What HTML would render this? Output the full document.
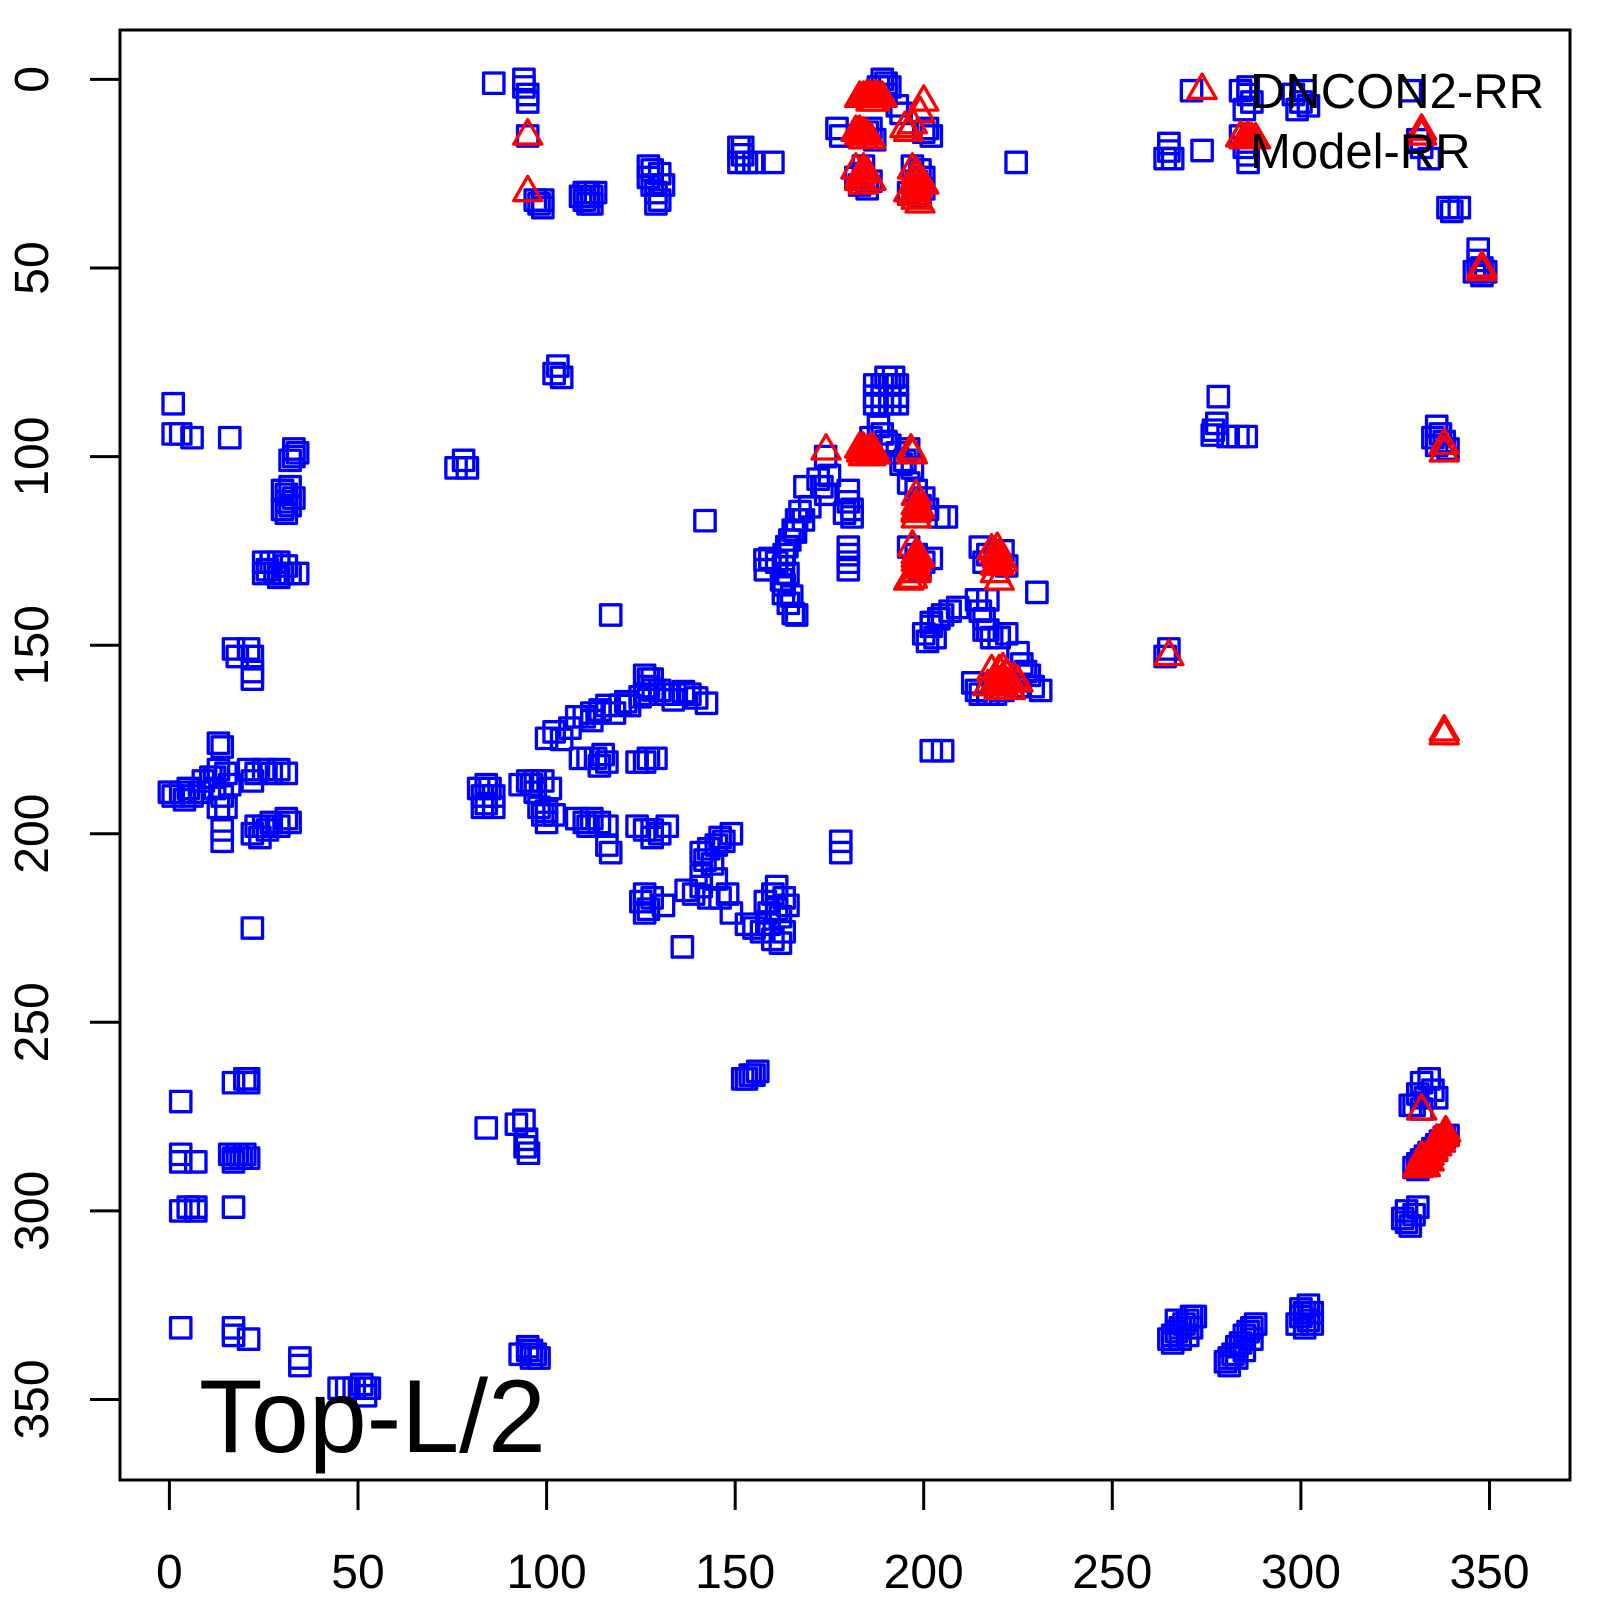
<!DOCTYPE html>
<html><head><meta charset="utf-8"><style>
html,body{margin:0;padding:0;background:#fff;}
svg{display:block;}
text{font-family:"Liberation Sans",Arial,sans-serif;fill:#000;}
</style></head><body>
<svg width="1600" height="1600" viewBox="0 0 1600 1600" xmlns="http://www.w3.org/2000/svg" xmlns:xlink="http://www.w3.org/1999/xlink">
<rect width="1600" height="1600" fill="#fff"/>
<defs>
<path id="q" d="M-2.7,-2.7H2.7V2.7H-2.7Z" fill="none" stroke="#0000ff" stroke-width="0.88" stroke-linejoin="round"/>
<path id="t" d="M0,-4.3L3.72,2.15L-3.72,2.15Z" fill="none" stroke="#ff0000" stroke-width="0.88" stroke-linejoin="round"/>
<path id="tf" d="M0,-4.3L3.72,2.15L-3.72,2.15Z" fill="#ff0000" stroke="#ff0000" stroke-width="0.88" stroke-linejoin="round"/>
</defs>
<g transform="translate(169.4 79.4) scale(3.7717)">
<!-- squares -->
<g>
<use href="#q" x="86" y="1"/><use href="#q" x="94" y="0"/><use href="#q" x="94" y="2"/><use href="#q" x="95" y="4"/><use href="#q" x="95" y="6"/><use href="#q" x="95" y="15"/><use href="#q" x="98" y="33"/><use href="#q" x="99" y="34"/><use href="#q" x="97" y="32"/><use href="#q" x="99" y="32"/>
<use href="#q" x="109" y="31"/><use href="#q" x="110" y="32"/><use href="#q" x="111" y="30"/><use href="#q" x="111" y="33"/><use href="#q" x="112" y="31"/><use href="#q" x="113" y="30"/><use href="#q" x="112" y="33"/><use href="#q" x="110" y="30"/>
<use href="#q" x="127" y="23"/><use href="#q" x="127" y="26"/><use href="#q" x="128" y="28"/><use href="#q" x="129" y="30"/><use href="#q" x="130" y="32"/><use href="#q" x="128" y="24"/><use href="#q" x="130" y="25"/><use href="#q" x="131" y="28"/><use href="#q" x="129" y="33"/>
<use href="#q" x="151" y="18"/><use href="#q" x="152" y="20"/><use href="#q" x="151" y="22"/><use href="#q" x="153" y="22"/><use href="#q" x="155" y="22"/><use href="#q" x="160" y="22"/><use href="#q" x="152" y="18"/>
<use href="#q" x="177" y="13"/><use href="#q" x="178" y="15"/>
<use href="#q" x="189" y="0"/><use href="#q" x="190" y="1"/><use href="#q" x="188" y="2"/><use href="#q" x="191" y="2"/><use href="#q" x="190" y="4"/><use href="#q" x="193" y="7"/><use href="#q" x="194" y="9"/>
<use href="#q" x="185" y="14"/><use href="#q" x="187" y="16"/><use href="#q" x="186" y="13"/><use href="#q" x="200" y="14"/><use href="#q" x="202" y="15"/><use href="#q" x="201" y="13"/>
<use href="#q" x="182" y="26"/><use href="#q" x="184" y="25"/><use href="#q" x="186" y="27"/><use href="#q" x="185" y="29"/><use href="#q" x="183" y="28"/><use href="#q" x="184" y="23"/>
<use href="#q" x="197" y="23"/><use href="#q" x="199" y="24"/><use href="#q" x="200" y="26"/><use href="#q" x="196" y="30"/><use href="#q" x="199" y="31"/><use href="#q" x="200" y="29"/><use href="#q" x="198" y="27"/>
<use href="#q" x="224.5" y="22"/>
<use href="#q" x="271" y="3"/><use href="#q" x="284" y="3"/><use href="#q" x="286" y="4"/><use href="#q" x="287" y="6"/><use href="#q" x="285" y="8"/><use href="#q" x="286" y="2"/>
<use href="#q" x="298" y="4"/><use href="#q" x="300" y="6"/><use href="#q" x="301" y="3"/><use href="#q" x="299" y="8"/><use href="#q" x="302" y="7"/>
<use href="#q" x="329" y="3"/><use href="#q" x="331" y="16"/><use href="#q" x="334" y="21"/><use href="#q" x="332" y="18"/>
<use href="#q" x="265" y="17"/><use href="#q" x="265" y="19"/><use href="#q" x="266" y="21"/><use href="#q" x="264" y="21"/>
<use href="#q" x="284" y="15"/><use href="#q" x="285" y="18"/><use href="#q" x="286" y="20"/><use href="#q" x="286" y="22"/>
<use href="#q" x="339" y="34"/><use href="#q" x="342" y="34"/><use href="#q" x="340" y="35"/>
<use href="#q" x="347" y="45"/><use href="#q" x="347" y="48"/><use href="#q" x="348" y="50"/><use href="#q" x="348" y="52"/><use href="#q" x="347" y="51"/><use href="#q" x="349" y="51"/><use href="#q" x="346" y="51"/>
<use href="#q" x="1" y="86"/><use href="#q" x="1" y="94"/><use href="#q" x="3" y="94"/><use href="#q" x="6" y="95"/><use href="#q" x="16" y="95"/>
<use href="#q" x="33" y="98"/><use href="#q" x="33" y="100"/><use href="#q" x="34" y="99"/><use href="#q" x="32" y="101"/>
<use href="#q" x="30" y="109"/><use href="#q" x="31" y="110"/><use href="#q" x="31" y="112"/><use href="#q" x="32" y="113"/><use href="#q" x="30" y="114"/><use href="#q" x="33" y="111"/><use href="#q" x="32" y="108"/><use href="#q" x="31" y="115"/>
<use href="#q" x="25" y="128"/><use href="#q" x="25" y="131"/><use href="#q" x="27" y="128"/><use href="#q" x="28" y="131"/><use href="#q" x="29" y="128"/><use href="#q" x="30" y="131"/><use href="#q" x="31" y="129"/><use href="#q" x="32" y="131"/><use href="#q" x="26" y="130"/><use href="#q" x="29" y="132"/><use href="#q" x="34" y="131"/>
<use href="#q" x="17" y="151"/><use href="#q" x="18" y="153"/><use href="#q" x="21" y="151"/><use href="#q" x="22" y="153"/><use href="#q" x="22" y="157"/><use href="#q" x="22" y="159"/>
<use href="#q" x="13" y="176"/><use href="#q" x="14" y="177"/>
<use href="#q" x="0" y="189"/><use href="#q" x="1" y="190"/><use href="#q" x="3" y="189"/><use href="#q" x="5" y="188"/><use href="#q" x="6" y="190"/><use href="#q" x="8" y="189"/><use href="#q" x="4" y="191"/>
<use href="#q" x="9" y="186"/><use href="#q" x="11" y="185"/><use href="#q" x="13" y="183"/><use href="#q" x="15" y="184"/><use href="#q" x="16" y="187"/><use href="#q" x="12" y="188"/><use href="#q" x="14" y="190"/><use href="#q" x="15" y="193"/><use href="#q" x="13" y="193"/><use href="#q" x="12" y="185"/>
<use href="#q" x="14" y="199"/><use href="#q" x="14" y="202"/>
<use href="#q" x="21" y="183"/><use href="#q" x="23" y="184"/><use href="#q" x="25" y="183"/><use href="#q" x="27" y="184"/><use href="#q" x="29" y="183"/><use href="#q" x="31" y="184"/><use href="#q" x="22" y="186"/>
<use href="#q" x="22" y="200"/><use href="#q" x="23" y="198"/><use href="#q" x="25" y="198"/><use href="#q" x="27" y="197"/><use href="#q" x="29" y="198"/><use href="#q" x="31" y="196"/><use href="#q" x="32" y="197"/><use href="#q" x="24" y="201"/><use href="#q" x="26" y="199"/>
<use href="#q" x="22" y="225"/>
<use href="#q" x="76" y="103"/><use href="#q" x="79" y="103"/><use href="#q" x="78" y="101"/>
<use href="#q" x="103" y="76"/><use href="#q" x="104" y="79"/><use href="#q" x="102" y="78"/>
<use href="#q" x="117" y="142"/><use href="#q" x="142" y="117"/>
<use href="#q" x="187" y="81"/><use href="#q" x="189" y="81"/><use href="#q" x="191" y="81"/><use href="#q" x="193" y="81"/><use href="#q" x="187" y="84"/><use href="#q" x="189" y="84"/><use href="#q" x="191" y="84"/><use href="#q" x="193" y="84"/><use href="#q" x="187" y="86"/><use href="#q" x="189" y="86"/><use href="#q" x="191" y="86"/><use href="#q" x="193" y="86"/><use href="#q" x="190" y="79"/><use href="#q" x="192" y="79"/>
<use href="#q" x="188" y="92"/><use href="#q" x="189" y="94"/><use href="#q" x="186" y="95"/><use href="#q" x="190" y="96"/>
<use href="#q" x="174" y="100"/>
<use href="#q" x="191" y="97"/><use href="#q" x="193" y="99"/><use href="#q" x="195" y="101"/><use href="#q" x="197" y="103"/><use href="#q" x="194" y="102"/><use href="#q" x="196" y="98"/>
<use href="#q" x="172" y="106"/><use href="#q" x="173" y="108"/><use href="#q" x="174" y="110"/><use href="#q" x="175" y="105"/><use href="#q" x="168.5" y="108"/>
<use href="#q" x="180" y="109"/><use href="#q" x="180" y="112"/><use href="#q" x="181" y="114"/><use href="#q" x="181" y="116"/><use href="#q" x="179" y="115"/>
<use href="#q" x="167.2" y="114.6"/><use href="#q" x="166.3" y="116.8"/><use href="#q" x="165.4" y="119.5"/><use href="#q" x="164.5" y="122.1"/><use href="#q" x="163.7" y="123.9"/><use href="#q" x="159.2" y="127"/><use href="#q" x="157.9" y="127.4"/><use href="#q" x="162.8" y="129.2"/><use href="#q" x="162.3" y="132.7"/><use href="#q" x="162.8" y="136.3"/><use href="#q" x="164.1" y="138.9"/><use href="#q" x="165.4" y="141.6"/><use href="#q" x="166.3" y="142"/><use href="#q" x="169.8" y="113.3"/><use href="#q" x="168.1" y="116.8"/><use href="#q" x="166" y="120"/><use href="#q" x="163" y="126"/><use href="#q" x="161" y="128"/><use href="#q" x="158" y="130"/><use href="#q" x="164" y="131"/><use href="#q" x="163" y="134"/><use href="#q" x="165" y="137"/>
<use href="#q" x="180" y="124"/><use href="#q" x="180" y="126"/><use href="#q" x="180" y="128"/><use href="#q" x="180" y="130"/>
<use href="#q" x="196" y="107"/><use href="#q" x="198" y="109"/><use href="#q" x="200" y="111"/><use href="#q" x="199" y="113"/><use href="#q" x="201" y="114"/>
<use href="#q" x="204" y="116"/><use href="#q" x="206" y="116"/>
<use href="#q" x="196" y="124"/><use href="#q" x="198" y="126"/><use href="#q" x="200" y="128"/><use href="#q" x="202" y="127"/><use href="#q" x="199" y="130"/>
<use href="#q" x="215" y="124"/><use href="#q" x="217" y="126"/><use href="#q" x="219" y="127"/><use href="#q" x="221" y="125"/><use href="#q" x="222" y="129"/><use href="#q" x="216" y="128"/>
<use href="#q" x="230" y="136"/>
<use href="#q" x="200" y="147"/><use href="#q" x="202" y="145"/><use href="#q" x="204" y="143"/><use href="#q" x="205" y="142"/><use href="#q" x="203" y="148"/><use href="#q" x="201" y="149"/><use href="#q" x="207" y="141"/><use href="#q" x="209" y="140"/><use href="#q" x="202" y="144"/>
<use href="#q" x="214" y="138"/><use href="#q" x="215" y="141"/><use href="#q" x="216" y="143"/><use href="#q" x="217" y="138"/><use href="#q" x="216" y="146"/>
<use href="#q" x="217" y="146"/><use href="#q" x="218" y="148"/><use href="#q" x="220" y="148"/><use href="#q" x="222" y="147"/>
<use href="#q" x="225" y="152"/><use href="#q" x="226" y="155"/><use href="#q" x="227" y="157"/>
<use href="#q" x="213" y="160"/><use href="#q" x="214" y="162"/><use href="#q" x="215" y="163"/><use href="#q" x="217" y="163"/><use href="#q" x="225" y="161"/><use href="#q" x="229" y="161"/><use href="#q" x="231" y="162"/><use href="#q" x="228" y="158"/><use href="#q" x="219" y="163"/><use href="#q" x="221" y="162"/>
<use href="#q" x="202" y="178"/><use href="#q" x="205" y="178"/>
<use href="#q" x="265" y="151"/><use href="#q" x="264" y="153"/>
<use href="#q" x="126" y="158"/><use href="#q" x="127" y="159"/><use href="#q" x="128" y="159"/><use href="#q" x="127" y="161"/>
<use href="#q" x="100" y="174.7"/><use href="#q" x="102" y="173"/><use href="#q" x="106.2" y="172"/><use href="#q" x="108" y="169"/><use href="#q" x="110" y="169"/><use href="#q" x="112" y="168"/><use href="#q" x="114.2" y="167.2"/><use href="#q" x="116" y="166"/><use href="#q" x="119.5" y="165.9"/><use href="#q" x="121" y="165"/><use href="#q" x="122" y="166"/><use href="#q" x="124.8" y="163.7"/><use href="#q" x="126" y="163"/><use href="#q" x="128.3" y="161.9"/><use href="#q" x="130" y="162"/><use href="#q" x="132" y="163"/><use href="#q" x="134" y="163"/><use href="#q" x="136.3" y="162.3"/><use href="#q" x="138" y="163"/><use href="#q" x="139.8" y="164"/><use href="#q" x="142.4" y="165.4"/><use href="#q" x="133.6" y="164.5"/><use href="#q" x="118" y="168"/><use href="#q" x="112" y="170"/><use href="#q" x="104" y="175"/>
<use href="#q" x="109" y="180"/><use href="#q" x="111" y="180"/><use href="#q" x="113" y="180"/><use href="#q" x="115" y="179"/><use href="#q" x="114" y="182"/><use href="#q" x="116" y="181"/>
<use href="#q" x="124" y="181"/><use href="#q" x="126" y="181"/><use href="#q" x="127" y="180"/><use href="#q" x="129" y="180"/>
<use href="#q" x="82" y="188"/><use href="#q" x="83" y="190"/><use href="#q" x="84" y="192"/><use href="#q" x="85" y="188"/><use href="#q" x="86" y="190"/><use href="#q" x="86" y="193"/><use href="#q" x="83" y="193"/><use href="#q" x="84" y="187"/>
<use href="#q" x="93" y="187"/><use href="#q" x="95" y="186"/><use href="#q" x="97" y="186"/><use href="#q" x="99" y="186"/><use href="#q" x="101" y="188"/><use href="#q" x="97" y="189"/><use href="#q" x="96" y="187"/>
<use href="#q" x="98" y="193"/><use href="#q" x="100" y="194"/><use href="#q" x="102" y="195"/><use href="#q" x="100" y="197"/><use href="#q" x="99" y="195"/>
<use href="#q" x="108" y="196"/><use href="#q" x="110" y="197"/><use href="#q" x="112" y="196"/><use href="#q" x="114" y="197"/><use href="#q" x="116" y="198"/><use href="#q" x="111" y="198"/>
<use href="#q" x="116" y="203"/><use href="#q" x="117" y="205"/>
<use href="#q" x="124" y="198"/><use href="#q" x="126" y="199"/><use href="#q" x="128" y="199"/><use href="#q" x="130" y="200"/><use href="#q" x="132" y="198"/><use href="#q" x="128" y="201"/>
<use href="#q" x="141" y="205"/><use href="#q" x="143" y="204"/><use href="#q" x="145" y="203"/><use href="#q" x="147" y="202"/><use href="#q" x="149" y="200"/><use href="#q" x="142" y="207"/><use href="#q" x="144" y="208"/><use href="#q" x="146" y="201"/>
<use href="#q" x="141" y="211"/><use href="#q" x="145" y="212"/>
<use href="#q" x="125" y="218"/><use href="#q" x="127" y="220"/><use href="#q" x="128" y="217"/><use href="#q" x="126" y="216"/><use href="#q" x="131" y="219"/><use href="#q" x="126" y="221"/>
<use href="#q" x="137" y="215"/><use href="#q" x="139" y="216"/><use href="#q" x="141" y="214"/><use href="#q" x="143" y="217"/><use href="#q" x="146" y="217"/><use href="#q" x="148" y="216"/><use href="#q" x="149" y="221"/>
<use href="#q" x="136" y="230"/>
<use href="#q" x="158" y="218"/><use href="#q" x="160" y="216"/><use href="#q" x="161" y="214"/><use href="#q" x="163" y="217"/><use href="#q" x="164" y="219"/><use href="#q" x="162" y="222"/><use href="#q" x="159" y="224"/><use href="#q" x="157" y="226"/><use href="#q" x="155" y="225"/><use href="#q" x="153" y="224"/><use href="#q" x="160" y="228"/><use href="#q" x="162" y="229"/><use href="#q" x="163" y="226"/><use href="#q" x="161" y="220"/><use href="#q" x="159" y="221"/>
<use href="#q" x="178" y="202"/><use href="#q" x="178" y="205"/>
<use href="#q" x="152" y="265"/><use href="#q" x="153" y="265"/><use href="#q" x="154" y="264"/><use href="#q" x="155" y="264"/><use href="#q" x="156" y="263"/>
<use href="#q" x="3" y="271"/><use href="#q" x="17" y="266"/><use href="#q" x="20" y="265"/><use href="#q" x="21" y="265"/><use href="#q" x="21" y="266"/>
<use href="#q" x="3" y="285"/><use href="#q" x="3" y="287"/><use href="#q" x="7" y="287"/>
<use href="#q" x="16" y="285"/><use href="#q" x="17" y="286"/><use href="#q" x="18" y="285"/><use href="#q" x="19" y="286"/><use href="#q" x="20" y="285"/><use href="#q" x="21" y="286"/><use href="#q" x="17" y="287"/>
<use href="#q" x="3" y="300"/><use href="#q" x="5" y="299"/><use href="#q" x="7" y="299"/><use href="#q" x="7" y="300"/><use href="#q" x="17" y="299"/>
<use href="#q" x="84" y="278"/><use href="#q" x="92" y="277"/><use href="#q" x="94" y="276"/><use href="#q" x="94.7" y="281"/><use href="#q" x="95.2" y="284.7"/><use href="#q" x="94.3" y="283"/>
<use href="#q" x="3" y="331"/><use href="#q" x="17" y="331"/><use href="#q" x="21" y="334"/><use href="#q" x="17" y="333"/>
<use href="#q" x="34.6" y="339"/><use href="#q" x="34.6" y="341"/>
<use href="#q" x="45" y="347"/><use href="#q" x="47" y="347"/><use href="#q" x="49" y="347"/><use href="#q" x="51" y="346"/><use href="#q" x="52" y="347"/><use href="#q" x="53" y="347"/><use href="#q" x="52" y="349"/>
<use href="#q" x="93" y="338"/><use href="#q" x="95" y="337"/><use href="#q" x="96" y="337"/><use href="#q" x="97" y="338"/><use href="#q" x="98" y="339"/><use href="#q" x="96" y="339"/><use href="#q" x="95" y="336"/>
<use href="#q" x="278.1" y="84.1"/><use href="#q" x="276.8" y="93"/><use href="#q" x="276.5" y="94.3"/><use href="#q" x="280.7" y="94.7"/><use href="#q" x="283.3" y="94.7"/><use href="#q" x="285.5" y="94.7"/><use href="#q" x="277.7" y="91.2"/>
<use href="#q" x="336" y="92"/><use href="#q" x="337" y="94"/><use href="#q" x="338" y="96"/><use href="#q" x="335" y="95"/><use href="#q" x="339" y="98"/><use href="#q" x="336" y="97"/>
<use href="#q" x="330" y="272"/><use href="#q" x="331" y="269"/><use href="#q" x="332" y="266"/><use href="#q" x="334" y="265"/><use href="#q" x="333" y="270"/><use href="#q" x="335" y="268"/><use href="#q" x="336" y="270"/><use href="#q" x="329" y="272"/><use href="#q" x="332" y="273"/>
<use href="#q" x="330" y="288.5"/><use href="#q" x="331" y="287.5"/><use href="#q" x="332" y="286.5"/><use href="#q" x="333" y="285.5"/><use href="#q" x="334" y="284.5"/><use href="#q" x="335" y="283.5"/><use href="#q" x="336" y="282.5"/><use href="#q" x="337" y="281.5"/><use href="#q" x="338" y="280.5"/><use href="#q" x="339" y="280"/><use href="#q" x="331" y="289"/><use href="#q" x="333" y="288"/>
<use href="#q" x="327" y="302"/><use href="#q" x="328" y="300"/><use href="#q" x="330" y="301"/><use href="#q" x="331" y="299"/><use href="#q" x="329" y="304"/><use href="#q" x="328" y="303"/>
<use href="#q" x="299" y="330"/><use href="#q" x="300" y="328"/><use href="#q" x="301" y="327"/><use href="#q" x="302" y="329"/><use href="#q" x="303" y="327"/><use href="#q" x="303" y="330"/><use href="#q" x="301" y="331"/><use href="#q" x="300" y="326"/><use href="#q" x="302" y="325"/>
<use href="#q" x="265" y="334"/><use href="#q" x="266" y="333"/><use href="#q" x="267" y="332"/><use href="#q" x="268" y="331"/><use href="#q" x="269" y="330"/><use href="#q" x="270" y="329"/><use href="#q" x="271" y="328"/><use href="#q" x="272" y="328"/><use href="#q" x="266" y="335"/><use href="#q" x="268" y="334"/><use href="#q" x="270" y="333"/><use href="#q" x="271" y="331"/><use href="#q" x="267" y="329"/>
<use href="#q" x="280" y="340"/><use href="#q" x="281" y="339"/><use href="#q" x="282" y="338"/><use href="#q" x="283" y="336"/><use href="#q" x="284" y="335"/><use href="#q" x="285" y="333"/><use href="#q" x="286" y="332"/><use href="#q" x="287" y="331"/><use href="#q" x="288" y="330"/><use href="#q" x="281" y="341"/><use href="#q" x="283" y="339"/><use href="#q" x="285" y="337"/><use href="#q" x="287" y="334"/>
<!-- legend square -->
<use href="#q" x="273.8" y="18.85"/>
</g>
<!-- triangles -->
<g>
<use href="#t" x="95" y="15"/><use href="#t" x="95" y="30"/>
<use href="#tf" x="185" y="5"/><use href="#tf" x="187" y="5"/>
<use href="#t" x="183" y="5"/><use href="#t" x="184" y="5"/><use href="#t" x="185" y="4.5"/><use href="#t" x="186" y="5"/><use href="#t" x="187" y="4.5"/><use href="#t" x="188" y="5"/><use href="#t" x="189" y="5"/><use href="#t" x="187" y="6"/><use href="#t" x="186" y="6"/>
<use href="#tf" x="184" y="15"/>
<use href="#t" x="182" y="14"/><use href="#t" x="183" y="15"/><use href="#t" x="184" y="14.5"/><use href="#t" x="185" y="15"/><use href="#t" x="186" y="16"/><use href="#t" x="184" y="16"/><use href="#t" x="183" y="14"/>
<use href="#tf" x="184" y="25"/>
<use href="#t" x="182" y="24"/><use href="#t" x="183" y="26"/><use href="#t" x="184" y="28"/><use href="#t" x="185" y="25"/><use href="#t" x="186" y="27"/><use href="#t" x="184" y="24"/><use href="#t" x="183" y="27"/>
<use href="#t" x="200" y="6"/><use href="#t" x="199" y="9"/><use href="#t" x="197" y="12"/><use href="#t" x="195" y="13"/><use href="#t" x="196" y="14"/>
<use href="#tf" x="198" y="28"/><use href="#tf" x="198" y="30"/>
<use href="#t" x="197" y="24"/><use href="#t" x="198" y="26"/><use href="#t" x="199" y="27"/><use href="#t" x="198" y="29"/><use href="#t" x="197" y="31"/><use href="#t" x="198" y="32"/><use href="#t" x="199" y="33"/><use href="#t" x="196" y="30"/><use href="#t" x="200" y="28"/><use href="#t" x="198" y="25"/>
<use href="#tf" x="286" y="16"/>
<use href="#t" x="284" y="15.5"/><use href="#t" x="285" y="16"/><use href="#t" x="286" y="15.5"/><use href="#t" x="287" y="16"/><use href="#t" x="288" y="16"/>
<use href="#t" x="332" y="13.7"/><use href="#t" x="332" y="15"/>
<use href="#t" x="348" y="50"/><use href="#t" x="348" y="51"/>
<use href="#t" x="174.1" y="98.5"/>
<use href="#tf" x="184.5" y="99"/><use href="#tf" x="186" y="99"/>
<use href="#t" x="183" y="98"/><use href="#t" x="183.5" y="99"/><use href="#t" x="184" y="98"/><use href="#t" x="185" y="99"/><use href="#t" x="186" y="98"/><use href="#t" x="187" y="99"/><use href="#t" x="187.3" y="99.5"/><use href="#t" x="184" y="100"/><use href="#t" x="186" y="100"/>
<use href="#t" x="196.6" y="98.5"/><use href="#t" x="197" y="99.5"/>
<use href="#tf" x="198" y="114.5"/>
<use href="#t" x="198" y="110.5"/><use href="#t" x="198" y="113"/><use href="#t" x="198" y="115"/><use href="#t" x="198" y="116.5"/><use href="#t" x="199" y="114"/>
<use href="#tf" x="198" y="127"/><use href="#tf" x="198" y="130"/>
<use href="#t" x="197" y="124"/><use href="#t" x="198" y="126"/><use href="#t" x="198" y="128"/><use href="#t" x="198" y="130"/><use href="#t" x="197" y="132.5"/><use href="#t" x="199" y="127"/><use href="#t" x="198" y="131"/><use href="#t" x="196" y="133"/>
<use href="#tf" x="219.5" y="127"/><use href="#tf" x="220" y="129"/>
<use href="#t" x="218" y="125"/><use href="#t" x="219" y="126"/><use href="#t" x="220" y="127"/><use href="#t" x="221" y="128"/><use href="#t" x="219" y="131"/><use href="#t" x="220" y="133"/><use href="#t" x="219" y="129"/><use href="#t" x="219.5" y="124.6"/>
<use href="#tf" x="219" y="160"/><use href="#tf" x="221" y="159"/><use href="#tf" x="223" y="160"/><use href="#tf" x="221" y="161"/>
<use href="#t" x="218" y="157"/><use href="#t" x="220" y="157"/><use href="#t" x="222" y="158"/><use href="#t" x="224" y="159"/><use href="#t" x="219" y="160"/><use href="#t" x="221" y="161"/><use href="#t" x="223" y="162"/><use href="#t" x="225" y="160"/><use href="#t" x="220" y="162"/><use href="#t" x="217" y="161"/><use href="#t" x="221" y="156.5"/>
<use href="#t" x="265" y="153"/>
<use href="#t" x="338" y="97"/><use href="#t" x="338" y="99"/>
<use href="#t" x="338" y="173"/><use href="#t" x="338" y="174"/>
<use href="#t" x="332" y="273.5"/>
<use href="#tf" x="331" y="288.5"/><use href="#tf" x="333" y="286.5"/><use href="#tf" x="335" y="284"/><use href="#tf" x="337" y="282"/><use href="#tf" x="338" y="280"/>
<use href="#t" x="331" y="288.8"/><use href="#t" x="332" y="288"/><use href="#t" x="333" y="287"/><use href="#t" x="334" y="285.5"/><use href="#t" x="335" y="284.5"/><use href="#t" x="336" y="283"/><use href="#t" x="337" y="282"/><use href="#t" x="338" y="280.5"/><use href="#t" x="338.4" y="279.3"/><use href="#t" x="332" y="286"/><use href="#t" x="334" y="287"/><use href="#t" x="336" y="281.5"/><use href="#t" x="333" y="288.5"/>
<!-- legend triangle -->
<use href="#t" x="273.8" y="2.9"/>
</g>
</g>
<!-- frame -->
<rect x="120" y="30" width="1450" height="1450" fill="none" stroke="#000" stroke-width="3"/>
<!-- ticks -->
<g stroke="#000" stroke-width="3">
<line x1="169.4" y1="1480" x2="169.4" y2="1510"/>
<line x1="358.0" y1="1480" x2="358.0" y2="1510"/>
<line x1="546.6" y1="1480" x2="546.6" y2="1510"/>
<line x1="735.2" y1="1480" x2="735.2" y2="1510"/>
<line x1="923.7" y1="1480" x2="923.7" y2="1510"/>
<line x1="1112.3" y1="1480" x2="1112.3" y2="1510"/>
<line x1="1300.9" y1="1480" x2="1300.9" y2="1510"/>
<line x1="1489.5" y1="1480" x2="1489.5" y2="1510"/>
<line x1="90" y1="79.4" x2="120" y2="79.4"/>
<line x1="90" y1="268.0" x2="120" y2="268.0"/>
<line x1="90" y1="456.6" x2="120" y2="456.6"/>
<line x1="90" y1="645.2" x2="120" y2="645.2"/>
<line x1="90" y1="833.7" x2="120" y2="833.7"/>
<line x1="90" y1="1022.3" x2="120" y2="1022.3"/>
<line x1="90" y1="1210.9" x2="120" y2="1210.9"/>
<line x1="90" y1="1399.5" x2="120" y2="1399.5"/>
</g>
<g font-size="48" text-anchor="middle">
<text x="169.4" y="1588">0</text>
<text x="358.0" y="1588">50</text>
<text x="546.6" y="1588">100</text>
<text x="735.2" y="1588">150</text>
<text x="923.7" y="1588">200</text>
<text x="1112.3" y="1588">250</text>
<text x="1300.9" y="1588">300</text>
<text x="1489.5" y="1588">350</text>
<text x="48" y="79.4" transform="rotate(-90 48 79.4)">0</text>
<text x="48" y="268.0" transform="rotate(-90 48 268.0)">50</text>
<text x="48" y="456.6" transform="rotate(-90 48 456.6)">100</text>
<text x="48" y="645.2" transform="rotate(-90 48 645.2)">150</text>
<text x="48" y="833.7" transform="rotate(-90 48 833.7)">200</text>
<text x="48" y="1022.3" transform="rotate(-90 48 1022.3)">250</text>
<text x="48" y="1210.9" transform="rotate(-90 48 1210.9)">300</text>
<text x="48" y="1399.5" transform="rotate(-90 48 1399.5)">350</text>
</g>
<!-- legend text -->
<text x="1250" y="108" font-size="49">DNCON2-RR</text>
<text x="1250" y="168" font-size="49">Model-RR</text>
<!-- panel label -->
<text x="199" y="1452" font-size="104">Top-L/2</text>
</svg>
</body></html>
